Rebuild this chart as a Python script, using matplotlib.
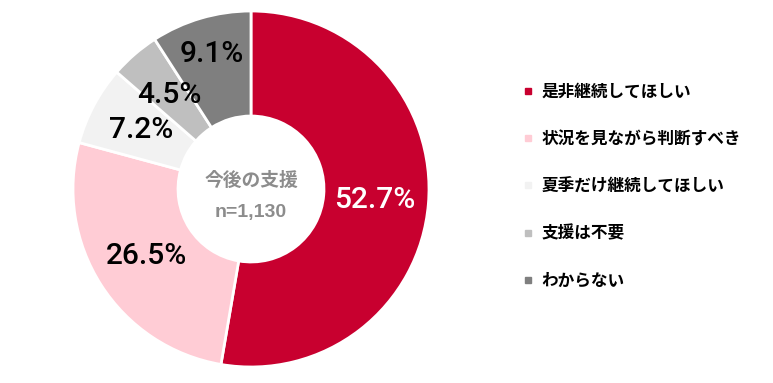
import matplotlib
matplotlib.use("Agg")
import matplotlib.pyplot as plt
from matplotlib.lines import Line2D
import numpy as np

categories = ["是非継続してほしい", "状況を見ながら判断すべき", "夏季だけ継続してほしい", "支援は不要", "わからない"]
values = [52.7, 26.5, 7.2, 4.5, 9.1]
colors = ["#C8002F", "#FFCCD5", "#F2F2F2", "#BFBFBF", "#7F7F7F"]
label_colors = ["white", "black", "black", "black", "black"]
label_radius = [0.70, 0.70, 0.70, 0.70, 0.79]
center_title = "今後の支援"
center_n = "n=1,130"

plt.rcParams['font.family'] = ['Noto Sans CJK JP', 'DejaVu Sans']

W, H = 773, 383
fig = plt.figure(figsize=(W / 100, H / 100), dpi=100)
cx, cy, R = 251, 189, 178
ax = fig.add_axes([(cx - R) / W, (H - cy - R) / H, 2 * R / W, 2 * R / H])

wedges, _ = ax.pie(values, colors=colors, startangle=90, counterclock=False,
                   radius=1.0, wedgeprops=dict(width=0.59, edgecolor="white", linewidth=2))
ax.set_xlim(-1, 1)
ax.set_ylim(-1, 1)
ax.set_aspect("equal")
ax.axis("off")

for w, v, c, r in zip(wedges, values, label_colors, label_radius):
    ang = np.deg2rad((w.theta1 + w.theta2) / 2)
    ax.text(r * np.cos(ang), r * np.sin(ang), f"{v:.1f}%", ha="center", va="center",
            fontsize=21.5, color=c, fontweight="medium", family=['Roboto', 'DejaVu Sans'])

ax.text(0, 0.05, center_title, ha="center", va="center", fontsize=13.5,
        color="#8C8C8C", fontweight="bold")
ax.text(0, -0.13, center_n, ha="center", va="center", fontsize=14,
        color="#8C8C8C", fontweight="bold", family=['Liberation Sans', 'DejaVu Sans'])

handles = [Line2D([0], [0], marker="s", linestyle="none", markersize=5,
                  markerfacecolor=c, markeredgecolor=c) for c in colors]
fig.legend(handles, categories, loc="upper left", bbox_to_anchor=(508 / W, 1 - 68 / H),
           frameon=False, handlelength=0.6, handletextpad=0.5,
           labelspacing=1.75, prop=dict(weight="bold", size=12))

fig.savefig("out.png", dpi=100)
